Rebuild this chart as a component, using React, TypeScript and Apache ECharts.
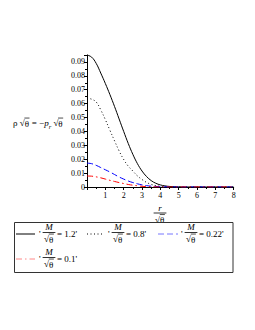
import React, { useEffect, useRef } from "react";
import * as echarts from "echarts";

const xs = [0, 0.25, 0.5, 0.75, 1, 1.25, 1.5, 1.75, 2, 2.25, 2.5, 2.75, 3, 3.25, 3.5, 3.75, 4, 4.25, 4.5, 5, 5.5, 6, 7, 8];
const m12 = [0.095, 0.0935, 0.089, 0.082, 0.0745, 0.0665, 0.058, 0.049, 0.04, 0.0313, 0.0235, 0.0168, 0.0115, 0.0075, 0.0046, 0.0027, 0.0015, 0.0008, 0.0004, 0.0001, 0, 0, 0, 0];
const m08 = [0.064, 0.0632, 0.0612, 0.0555, 0.0485, 0.0408, 0.0333, 0.026, 0.0198, 0.015, 0.0115, 0.008, 0.0054, 0.0033, 0.0019, 0.001, 0.0005, 0.0002, 0.0001, 0, 0, 0, 0, 0];
const m022 = [0.0172, 0.0168, 0.0156, 0.014, 0.0124, 0.0108, 0.009, 0.0072, 0.0057, 0.0043, 0.0032, 0.0023, 0.0015, 0.001, 0.0006, 0.0004, 0.0002, 0.0001, 0, 0, 0, 0, 0, 0];
const m01 = [0.0079, 0.0078, 0.0073, 0.0066, 0.0057, 0.0048, 0.004, 0.0032, 0.0025, 0.0018, 0.0013, 0.0009, 0.0005, 0.0003, 0.0002, 0.0001, 0, 0, 0, 0, 0, 0, 0, 0];
const legendValues = ["1.2", "0.8", "0.22", "0.1"];
const xTicks = [1, 2, 3, 4, 5, 6, 7, 8];

const FONT = '"Liberation Serif", "Times New Roman", serif';

let ctx: CanvasRenderingContext2D | null = null;
function measure(text: string, size: number, italic = false): number {
  if (!ctx) ctx = document.createElement("canvas").getContext("2d");
  if (!ctx) return text.length * size * 0.5;
  ctx.font = `${italic ? "italic " : ""}${size}px ${FONT}`;
  return ctx.measureText(text).width;
}

function txt(x: number, y: number, text: string, size: number, opts: any = {}) {
  return {
    type: "text",
    x,
    y,
    silent: true,
    style: {
      text,
      fontSize: size,
      fontFamily: FONT,
      fontStyle: opts.italic ? "italic" : "normal",
      fill: "#000",
      align: opts.align || "left",
      verticalAlign: "middle",
    },
  };
}

function ln(x1: number, y1: number, x2: number, y2: number, stroke = "#000", lineDash: any = null, lineWidth = 1) {
  return {
    type: "line",
    silent: true,
    shape: { x1, y1, x2, y2 },
    style: { stroke, lineWidth, lineDash },
  };
}

// sqrt theta starting at x (left), centered vertically at cy
function sqrtTheta(x: number, cy: number, size: number) {
  const wS = measure("√", size);
  const wT = measure("θ", size);
  return {
    els: [
      txt(x, cy, "√", size),
      txt(x + wS, cy + 0.5, "θ", size),
      ln(x + wS - 0.3, cy - size * 0.55, x + wS + wT + 0.5, cy - size * 0.55, "#000", null, 0.7),
    ],
    w: wS + wT + 0.5,
  };
}

function fraction(cx: number, cy: number, num: string, size: number) {
  const sq = measure("√θ", size) + 0.5;
  const w = Math.max(sq, measure(num, size, true)) + 3;
  const els: any[] = [];
  els.push(txt(cx, cy - 5, num, size, { italic: true, align: "center" }));
  els.push(ln(cx - w / 2, cy + 0.5, cx + w / 2, cy + 0.5, "#000", null, 0.8));
  els.push(...sqrtTheta(cx - sq / 2, cy + 7, size).els);
  return els;
}

function legendEntry(x: number, cy: number, value: string, size: number) {
  const els: any[] = [];
  els.push(txt(x, cy, "'", size));
  const fcx = x + 10;
  els.push(...fraction(fcx, cy - 2, "M", size));
  els.push(txt(fcx + 8, cy, `= ${value}'`, size));
  return els;
}

function buildGraphics() {
  const els: any[] = [];
  // y-axis label
  const ys = 9;
  const cy = 123;
  let x = 13;
  els.push(txt(x, cy, "ρ ", ys));
  x += measure("ρ ", ys);
  let s = sqrtTheta(x, cy, ys);
  els.push(...s.els);
  x += s.w;
  els.push(txt(x, cy, " = −", ys));
  x += measure(" = −", ys);
  els.push(txt(x, cy, "p", ys, { italic: true }));
  x += measure("p", ys, true);
  els.push(txt(x, cy + 3, "r", 6.5, { italic: true }));
  x += measure("r", 6.5, true) + measure(" ", ys);
  s = sqrtTheta(x, cy, ys);
  els.push(...s.els);

  // x-axis label
  els.push(...fraction(160, 212.5, "r", 9));

  // legend box
  els.push({
    type: "rect",
    silent: true,
    shape: { x: 14.5, y: 222.5, width: 218.5, height: 50 },
    style: { fill: "none", stroke: "#333", lineWidth: 1 },
  });
  const r1 = 234;
  const r2 = 259;
  els.push(ln(16, r1, 35, r1, "#000", null, 1));
  els.push(...legendEntry(39, r1, legendValues[0], 9));
  els.push(ln(87, r1, 104, r1, "#000", [1, 2.5], 1));
  els.push(...legendEntry(108, r1, legendValues[1], 9));
  els.push(ln(158, r1, 178, r1, "#7777ff", [6, 3], 1));
  els.push(...legendEntry(181, r1, legendValues[2], 9));
  els.push(ln(16, r2, 35, r2, "#ff8888", [6, 3, 1.5, 3], 1));
  els.push(...legendEntry(39, r2, legendValues[3], 9));
  return els;
}

export default function App() {
  const ref = useRef<HTMLDivElement>(null);
  useEffect(() => {
    if (!ref.current) return;
    const chart = echarts.init(ref.current, null, { renderer: "svg" });
    const pairs = (vals: number[]) => xs.map((x, i) => [x, vals[i]]);
    const lineSeries = (name: string, vals: number[], color: string, type: any) => ({
      name,
      type: "line",
      data: pairs(vals),
      smooth: 0.4,
      showSymbol: false,
      lineStyle: { color, width: 1, type },
      z: 3,
    });
    chart.setOption({
      animation: false,
      grid: { left: 87, right: 21.3, top: 55, bottom: 143 },
      xAxis: {
        type: "value",
        min: 0,
        max: 8,
        interval: 1,
        axisLine: { lineStyle: { color: "#000", width: 1 } },
        axisTick: { show: true, length: 3, lineStyle: { color: "#000" } },
        minorTick: { show: true, splitNumber: 2, length: 2, lineStyle: { color: "#000" } },
        splitLine: { show: false },
        axisLabel: {
          fontFamily: FONT,
          fontSize: 8,
          color: "#000",
          margin: 4,
          formatter: (v: number) => (xTicks.includes(v) ? String(v) : ""),
        },
      },
      yAxis: {
        type: "value",
        min: 0,
        max: 0.095,
        interval: 0.01,
        axisLine: { show: true, lineStyle: { color: "#000", width: 1 } },
        axisTick: { show: true, length: 3, lineStyle: { color: "#000" } },
        minorTick: { show: true, splitNumber: 2, length: 2, lineStyle: { color: "#000" } },
        splitLine: { show: false },
        axisLabel: {
          fontFamily: FONT,
          fontSize: 8,
          color: "#000",
          margin: 2,
          formatter: (v: number) => {
            if (v === 0) return "0";
            const k = v * 100;
            return Math.abs(k - Math.round(k)) < 1e-6 ? v.toFixed(2) : "";
          },
        },
      },
      series: [
        lineSeries("M/√θ = 1.2", m12, "#000000", "solid"),
        lineSeries("M/√θ = 0.8", m08, "#000000", [1, 2.5]),
        lineSeries("M/√θ = 0.22", m022, "#0000ff", [6, 3]),
        lineSeries("M/√θ = 0.1", m01, "#ff0000", [6, 3, 1.5, 3]),
      ],
      graphic: buildGraphics(),
    });
    return () => chart.dispose();
  }, []);
  return (
    <div
      ref={ref}
      style={{ position: "fixed", left: 0, top: 0, width: 255, height: 330, background: "#fff" }}
    />
  );
}
